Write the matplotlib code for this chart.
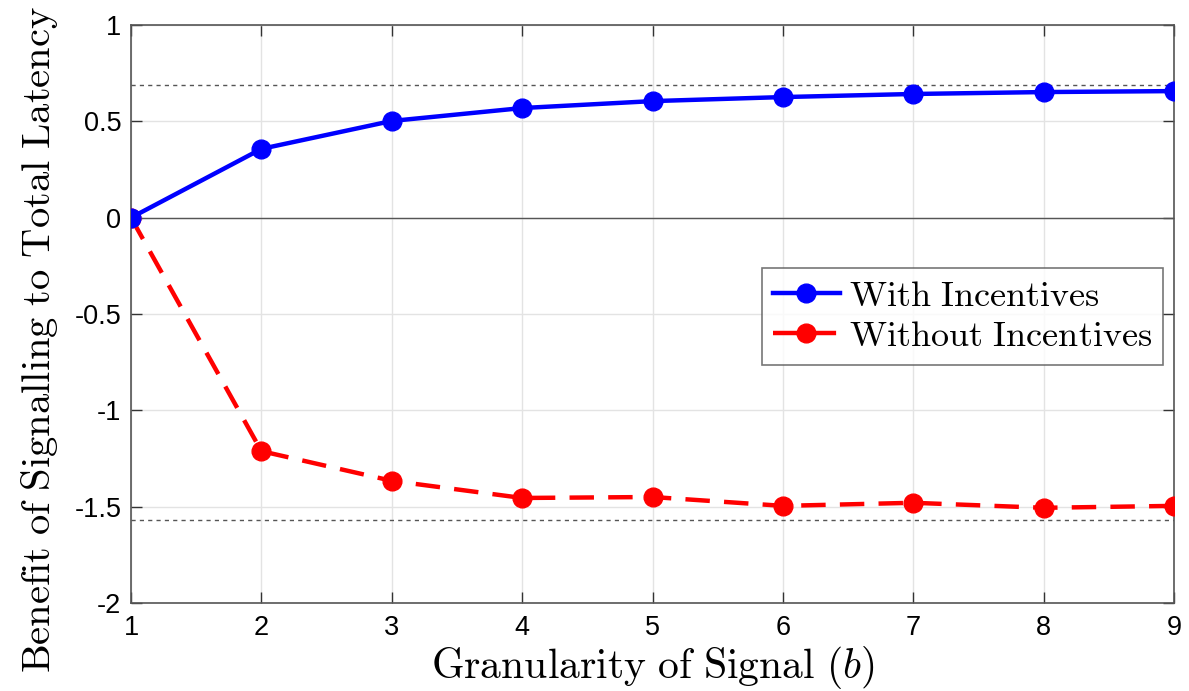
import matplotlib
matplotlib.use("Agg")
import matplotlib.pyplot as plt
import numpy as np

# data
b = [1, 2, 3, 4, 5, 6, 7, 8, 9]
with_inc = [0.0, 0.357, 0.502, 0.569, 0.605, 0.626, 0.642, 0.652, 0.657]
without_inc = [0.0, -1.212, -1.366, -1.455, -1.45, -1.496, -1.48, -1.506, -1.496]
upper_bound = 0.688
lower_bound = -1.569

xticks = [1, 2, 3, 4, 5, 6, 7, 8, 9]
yticks = [-2, -1.5, -1, -0.5, 0, 0.5, 1]
ytick_labels = ["-2", "-1.5", "-1", "-0.5", "0", "0.5", "1"]

plt.rcParams['mathtext.fontset'] = 'cm'
plt.rcParams['font.family'] = ['Liberation Sans', 'DejaVu Sans']

fig = plt.figure(figsize=(11.89, 6.91), dpi=100)
ax = fig.add_axes([0.1102, 0.1274, 0.8772, 0.8364])

gridc = '#e3e3e3'
ax.grid(True, color=gridc, linewidth=1.0)
ax.set_axisbelow(True)

# reference lines
ax.axhline(0, color='#555555', linewidth=1.0, zorder=1)
ax.axhline(upper_bound, color='#555555', linewidth=1.0, linestyle=(0, (3, 3)), zorder=1)
ax.axhline(lower_bound, color='#555555', linewidth=1.0, linestyle=(0, (3, 3)), zorder=1)

ax.plot(b, without_inc, color='red', linewidth=3.2, dashes=(5.5, 3.2),
        marker='o', markersize=13.5, label='Without Incentives', zorder=3)
ax.plot(b, with_inc, color='blue', linewidth=3.2,
        marker='o', markersize=13.5, label='With Incentives', zorder=4)

ax.set_xlim(1, 9)
ax.set_ylim(-2, 1)
ax.set_xticks(xticks)
ax.set_yticks(yticks)
ax.set_yticklabels(ytick_labels)
ax.tick_params(direction='in', length=8, width=1, color='#333333', labelsize=19.5,
               top=True, right=True)
ax.tick_params(axis='y', pad=7)
ax.tick_params(axis='x', pad=9)
for s in ax.spines.values():
    s.set_color('#555555')
    s.set_linewidth(1.2)

ax.set_xlabel(r'$\mathrm{Granularity\ of\ Signal\ (}b\mathrm{)}$', fontsize=30, labelpad=2)
ax.set_ylabel(r'$\mathrm{Benefit\ of\ Signalling\ to\ Total\ Latency}$', fontsize=29.2)
ax.yaxis.set_label_coords(-0.068, 0.455)

h, l = ax.get_legend_handles_labels()
leg = ax.legend([h[1], h[0]],
                [r'$\mathrm{With\ Incentives}$', r'$\mathrm{Without\ Incentives}$'],
                loc='upper left', bbox_to_anchor=(0.605, 0.58), fontsize=26,
                frameon=True, fancybox=False, edgecolor='#555555',
                handlelength=1.85, handletextpad=0.25, borderpad=0.3, labelspacing=0.15,
                borderaxespad=0)
leg.get_frame().set_linewidth(1.2)

fig.savefig('out.png', dpi=100)
